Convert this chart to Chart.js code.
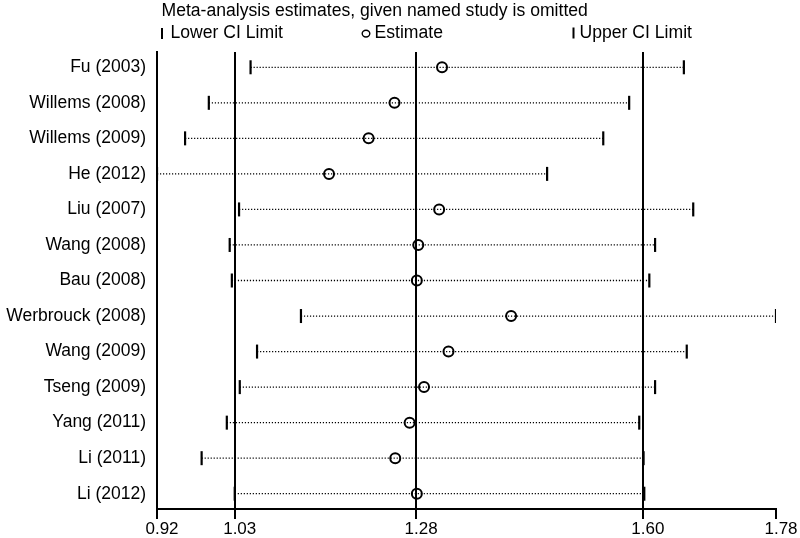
<!DOCTYPE html>
<html lang="en">
<head>
    <meta charset="UTF-8">
    <title>Meta-analysis estimates, given named study is omitted</title>
    <script src="https://cdn.jsdelivr.net/npm/chart.js"></script>
    <style>
        body { margin: 0; background: #fff; }
    </style>
</head>
<body>
    <canvas id="influence" width="800" height="538"></canvas>

    <script>
        // Studies, top to bottom
        const studies = ['Fu (2003)', 'Willems (2008)', 'Willems (2009)', 'He (2012)', 'Liu (2007)',
            'Wang (2008)', 'Bau (2008)', 'Werbrouck (2008)', 'Wang (2009)', 'Tseng (2009)',
            'Yang (2011)', 'Li (2011)', 'Li (2012)'];

        // Estimates with the named study left out
        const lowerCI = [1.050, 0.992, 0.959, 0.920, 1.034, 1.021, 1.024, 1.120, 1.059, 1.035, 1.017, 0.982, 1.028];
        const estimate = [1.316, 1.250, 1.214, 1.159, 1.312, 1.283, 1.281, 1.412, 1.325, 1.291, 1.271, 1.251, 1.281];
        const upperCI = [1.652, 1.576, 1.540, 1.462, 1.665, 1.612, 1.604, 1.780, 1.656, 1.612, 1.590, 1.596, 1.597];

        // x axis ticks: range ends and the overall lower / estimate / upper
        const tickValues = [0.92, 1.028, 1.280, 1.595, 1.78];
        const tickLabels = ['0.92', '1.03', '1.28', '1.60', '1.78'];

        const titleText = 'Meta-analysis estimates, given named study is omitted';
        const legendLabels = ['Lower CI Limit', 'Estimate', 'Upper CI Limit'];

        const FONT = '"Liberation Sans", Arial, sans-serif';

        // title and key drawn above the plot
        const header = {
            id: 'header',
            afterDraw(chart) {
                const ctx = chart.ctx;
                ctx.save();
                ctx.fillStyle = '#000';
                ctx.strokeStyle = '#000';
                ctx.font = '17.6px ' + FONT;
                ctx.textBaseline = 'alphabetic';
                ctx.fillText(titleText, 161.5, 15.5);

                ctx.lineWidth = 2;
                ctx.beginPath();
                ctx.moveTo(162, 28); ctx.lineTo(162, 39);
                ctx.moveTo(573.5, 27.5); ctx.lineTo(573.5, 38.5);
                ctx.stroke();
                ctx.fillText(legendLabels[0], 170.5, 37.5);

                ctx.lineWidth = 1.4;
                ctx.beginPath();
                ctx.ellipse(366, 33.6, 3.8, 3.4, 0, 0, Math.PI * 2);
                ctx.stroke();
                ctx.fillText(legendLabels[1], 374.5, 37.5);
                ctx.fillText(legendLabels[2], 579.5, 37.5);
                ctx.restore();
            }
        };

        const rangeSets = studies.map((s, i) => ({
            data: [{ x: lowerCI[i], y: i }, { x: upperCI[i], y: i }],
            showLine: true,
            borderColor: '#000',
            borderWidth: 1.3,
            borderDash: [1.2, 1.8],
            pointRadius: 0,
            fill: false
        }));

        new Chart(document.getElementById('influence').getContext('2d'), {
            type: 'scatter',
            data: {
                datasets: [
                    {
                        data: estimate.map((v, i) => ({ x: v, y: i })),
                        pointStyle: 'circle',
                        pointRadius: 5,
                        borderWidth: 2,
                        borderColor: '#000',
                        backgroundColor: 'rgba(0,0,0,0)'
                    },
                    {
                        data: lowerCI.map((v, i) => ({ x: v, y: i })),
                        pointStyle: 'line',
                        rotation: 90,
                        pointRadius: 7,
                        borderWidth: 2.2,
                        borderColor: '#000'
                    },
                    {
                        data: upperCI.map((v, i) => ({ x: v, y: i })),
                        pointStyle: 'line',
                        rotation: 90,
                        pointRadius: 7,
                        borderWidth: 2.2,
                        borderColor: '#000'
                    },
                    ...rangeSets
                ]
            },
            options: {
                responsive: false,
                animation: false,
                layout: { padding: { top: 52, right: 24, left: 0, bottom: 0 } },
                plugins: {
                    legend: { display: false },
                    tooltip: { enabled: false }
                },
                scales: {
                    x: {
                        type: 'linear',
                        min: 0.92,
                        max: 1.78,
                        afterBuildTicks: axis => { axis.ticks = tickValues.map(v => ({ value: v })); },
                        afterFit: axis => { axis.height = 29; },
                        ticks: {
                            callback: (value, index) => tickLabels[index],
                            color: '#000',
                            font: { family: FONT, size: 17 },
                            padding: 0,
                            labelOffset: 5,
                            maxRotation: 0,
                            autoSkip: false
                        },
                        grid: {
                            color: ctx => (ctx.index === 0 || ctx.index === tickValues.length - 1) ? 'rgba(0,0,0,0)' : '#000',
                            tickColor: '#000',
                            lineWidth: 2,
                            tickLength: 10,
                            drawTicks: true
                        },
                        border: { display: true, color: '#000', width: 2 }
                    },
                    y: {
                        type: 'linear',
                        reverse: true,
                        min: -0.43,
                        max: 12.43,
                        afterBuildTicks: axis => { axis.ticks = studies.map((s, i) => ({ value: i })); },
                        afterFit: axis => { axis.width = 157; },
                        ticks: {
                            callback: value => studies[value],
                            color: '#000',
                            font: { family: FONT, size: 17.5 },
                            padding: 11,
                            autoSkip: false
                        },
                        grid: { display: false, drawTicks: false },
                        border: { display: true, color: '#000', width: 2 }
                    }
                }
            },
            plugins: [header]
        });
    </script>
</body>
</html>
